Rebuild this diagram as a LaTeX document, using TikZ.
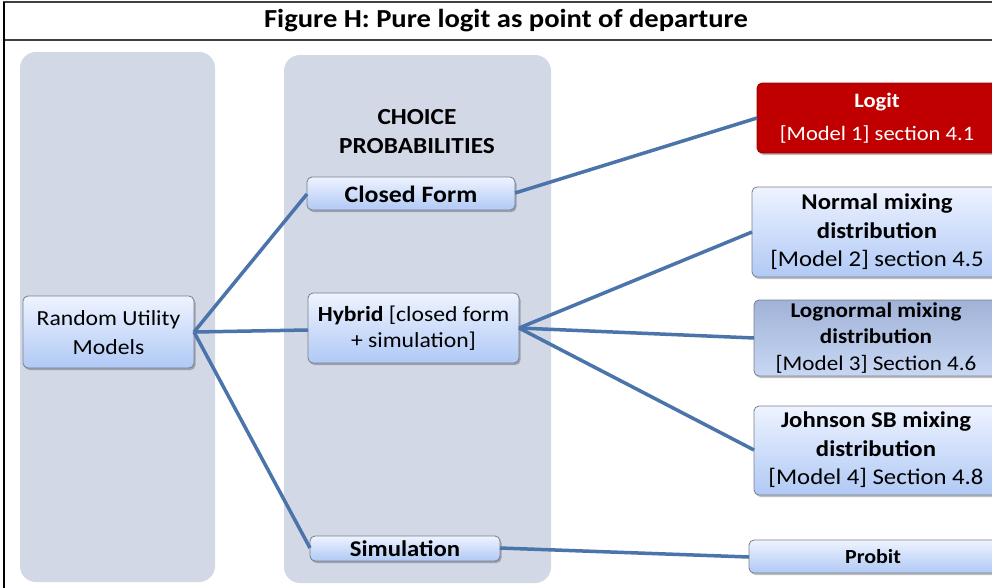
\documentclass[tikz,border=0pt]{standalone}
\usepackage{fontspec}
\setmainfont{Carlito}[FakeStretch=1.1]
\usetikzlibrary{shadows}
\definecolor{panel}{RGB}{210,216,229}
\definecolor{link}{RGB}{74,116,170}
\definecolor{boxtop}{RGB}{238,243,255}
\definecolor{boxbot}{RGB}{176,201,245}
\definecolor{darktop}{RGB}{160,178,215}
\definecolor{darkbot}{RGB}{200,215,243}
\definecolor{logitred}{RGB}{192,0,0}
\definecolor{edge}{RGB}{120,128,140}
\begin{document}
\begin{tikzpicture}[x=1pt,y=-1pt,
  panelbox/.style={fill=panel,rounded corners=16pt,draw=none},
  bluebox/.style={draw=edge,line width=0.8pt,rounded corners=5pt,
    top color=boxtop,bottom color=boxbot,
    drop shadow={shadow xshift=1.5pt,shadow yshift=-2pt,fill=black,opacity=0.25}},
  darkbox/.style={bluebox,top color=darktop,bottom color=darkbot},
  redbox/.style={draw=logitred!80!black,line width=0.8pt,rounded corners=5pt,fill=logitred,
    drop shadow={shadow xshift=1.5pt,shadow yshift=-2pt,fill=black,opacity=0.25}},
  label/.style={font=\fontsize{22.5}{28.5}\selectfont,align=center,inner sep=0pt},
  connector/.style={draw=link,line width=3.5pt}]
\useasboundingbox (0,0) rectangle (992,587);
\clip (0,0) rectangle (992,587);
\fill[white] (0,0) rectangle (992,587);

% frame and title row
\draw[black!75,line width=2pt] (3,2) -- (1000,2);
\draw[black!75,line width=2.5pt] (3,40) -- (1000,40);
\draw[black,line width=2pt] (4,2) -- (4,600);
\node[font=\fontsize{26}{30}\bfseries\selectfont,inner sep=0pt] (title) at (506,21) {Figure H: Pure logit as point of departure};

% background columns
\path[panelbox] (20,52) rectangle (215,582);
\path[panelbox] (284,55) rectangle (551,583);
\node[label,font=\fontsize{23}{29}\bfseries\selectfont] (choice) at (417,132) {CHOICE\\PROBABILITIES};

% boxes
\path[bluebox] (23,296) rectangle (194,368);
\node[label,font=\fontsize{21.5}{29}\selectfont] (rum) at (108.5,333) {Random Utility\\Models};
\coordinate (rumR) at (194,332);

\path[bluebox] (307,177) rectangle (515,210);
\node[label,font=\fontsize{23.5}{26}\bfseries\selectfont] (closed) at (411,194) {Closed Form};
\coordinate (closedL) at (307,194);
\coordinate (closedR) at (515,193);

\path[bluebox] (308,293) rectangle (519,363);
\node[label,font=\fontsize{21.5}{26}\selectfont] (hybrid) at (413.5,328) {\textbf{Hybrid} [closed form\\+ simulation]};
\coordinate (hybridL) at (308,330);
\coordinate (hybridR) at (519,328);

\path[bluebox] (310,536) rectangle (500,561);
\node[label,font=\fontsize{22.5}{26}\bfseries\selectfont] (simul) at (405,549) {Simulation};
\coordinate (simulL) at (310,548);
\coordinate (simulR) at (500,548);

\path[redbox] (757,83) rectangle (997,153);
\node[label,text=white,font=\fontsize{20.5}{33}\selectfont] (logit) at (877,118) {\textbf{Logit}\\{}[Model 1] section 4.1};
\coordinate (logitL) at (757,118);

\path[bluebox] (752,187) rectangle (1002,277);
\node[label] (normal) at (877,232) {\textbf{Normal mixing}\\\textbf{distribution}\\{}[Model 2] section 4.5};
\coordinate (normalL) at (752,232);

\path[darkbox] (754,300) rectangle (998,376);
\node[label,font=\fontsize{21}{26.5}\selectfont] (lognormal) at (876,338) {\textbf{Lognormal mixing}\\\textbf{distribution}\\{}[Model 3] Section 4.6};
\coordinate (lognormalL) at (754,338);

\path[bluebox] (754,406) rectangle (998,495);
\node[label] (johnson) at (876,450) {\textbf{Johnson SB mixing}\\\textbf{distribution}\\{}[Model 4] Section 4.8};
\coordinate (johnsonL) at (754,450);

\path[bluebox] (749,540) rectangle (997,573);
\node[label,font=\fontsize{20}{24}\bfseries\selectfont] (probit) at (873,557) {Probit};
\coordinate (probitL) at (749,557);

% connectors
\draw[connector] (rumR) -- (closedL);
\draw[connector] (rumR) -- (hybridL);
\draw[connector] (rumR) -- (simulL);
\draw[connector] (closedR) -- (logitL);
\draw[connector] (hybridR) -- (normalL);
\draw[connector] (hybridR) -- (lognormalL);
\draw[connector] (hybridR) -- (johnsonL);
\draw[connector] (simulR) -- (probitL);
\end{tikzpicture}
\end{document}
